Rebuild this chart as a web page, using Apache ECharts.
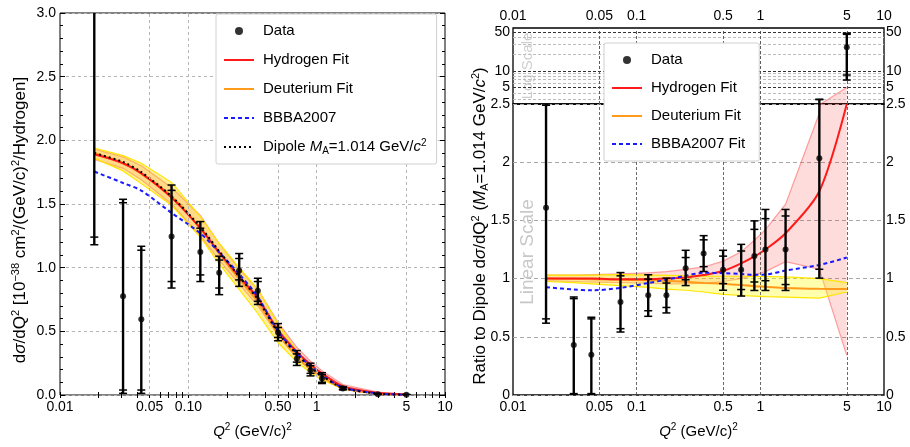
<!DOCTYPE html>
<html><head><meta charset="utf-8">
<script src="https://cdn.jsdelivr.net/npm/echarts@6/dist/echarts.min.js"></script>
<style>html,body{margin:0;padding:0;background:#fff}#c{width:910px;height:447px}</style>
</head><body><div id="c"></div>
<script>
// ---------- DATA ----------
const q2 = [0.0185, 0.031, 0.043, 0.074, 0.124, 0.174, 0.249, 0.348, 0.50, 0.70, 0.895, 1.10, 1.60, 3.0, 5.0];

// Left panel: cross section
const xsData   = [3.05, 0.775, 0.594, 1.245, 1.124, 0.961, 0.977, 0.819, 0.491, 0.284, 0.194, 0.129, 0.052, 0.006, 0.002];
const xsStatHi = [3.40, 1.510, 1.137, 1.607, 1.310, 1.060, 1.072, 0.891, 0.530, 0.323, 0.230, 0.160, 0.060, 0.008, 0.003];
const xsTotHi  = [3.60, 1.537, 1.168, 1.649, 1.362, 1.090, 1.111, 0.917, 0.561, 0.349, 0.250, 0.175, 0.066, 0.010, 0.004];
const xsStatLo = [1.24, 0.039, 0.039, 0.891, 0.943, 0.840, 0.904, 0.736, 0.452, 0.258, 0.170, 0.100, 0.045, 0.004, 0.001];
const xsTotLo  = [1.18, 0.013, 0.013, 0.840, 0.891, 0.788, 0.853, 0.711, 0.426, 0.232, 0.150, 0.090, 0.040, 0.003, 0.0005];

const dipoleXs  = [1.90, 1.83, 1.75, 1.56, 1.32, 1.13, 0.93, 0.75, 0.49, 0.32, 0.215, 0.15, 0.057, 0.011, 0.002];
const hydroXs   = [1.89, 1.82, 1.74, 1.55, 1.31, 1.12, 0.93, 0.76, 0.51, 0.34, 0.24, 0.17, 0.070, 0.017, 0.004];
const hydroXsHi = [1.93, 1.87, 1.80, 1.63, 1.41, 1.19, 0.99, 0.83, 0.57, 0.375, 0.265, 0.19, 0.082, 0.022, 0.006];
const hydroXsLo = [1.85, 1.78, 1.69, 1.50, 1.25, 1.06, 0.87, 0.70, 0.47, 0.31, 0.21, 0.15, 0.058, 0.011, 0.001];
const deutXs    = [1.90, 1.82, 1.74, 1.56, 1.31, 1.11, 0.91, 0.73, 0.48, 0.30, 0.20, 0.14, 0.053, 0.011, 0.0018];
const deutXsHi  = [1.94, 1.88, 1.82, 1.67, 1.40, 1.19, 1.00, 0.83, 0.56, 0.345, 0.23, 0.16, 0.062, 0.013, 0.0022];
const deutXsLo  = [1.86, 1.76, 1.66, 1.49, 1.24, 1.03, 0.83, 0.64, 0.41, 0.26, 0.175, 0.12, 0.045, 0.009, 0.0015];
const bbbaXs    = [1.755, 1.665, 1.605, 1.43, 1.27, 1.12, 0.95, 0.77, 0.50, 0.33, 0.225, 0.155, 0.060, 0.012, 0.0022];

// Right panel: ratio to dipole
const rData   = [1.608, 0.429, 0.345, 0.80, 0.856, 0.856, 1.088, 1.215, 1.075, 1.075, 1.195, 1.249, 1.249, 2.034, 26.7];
const rStatHi = [2.49, 0.828, 0.654, 1.024, 0.996, 0.962, 1.181, 1.333, 1.193, 1.237, 1.423, 1.515, 1.538, 3.00, 46.0];
const rTotHi  = [2.49, 0.842, 0.668, 1.052, 1.033, 1.004, 1.243, 1.369, 1.243, 1.294, 1.496, 1.594, 1.594, 3.05, 48.0];
const rStatLo = [0.654, 0.012, 0.012, 0.570, 0.724, 0.752, 0.990, 1.103, 0.957, 0.906, 0.971, 0.982, 0.949, 1.080, 8.4];
const rTotLo  = [0.617, 0.002, 0.002, 0.541, 0.676, 0.705, 0.940, 1.061, 0.900, 0.850, 0.898, 0.898, 0.898, 1.004, 6.8];

const hydroR   = [1.00, 1.00, 1.00, 0.995, 0.995, 1.00, 1.01, 1.03, 1.065, 1.13, 1.19, 1.25, 1.39, 1.75, 2.5];
const hydroRHi = [1.03, 1.03, 1.035, 1.04, 1.05, 1.06, 1.08, 1.10, 1.15, 1.23, 1.33, 1.42, 1.64, 2.42, 5.0];
const hydroRLo = [0.98, 0.975, 0.97, 0.965, 0.96, 0.955, 0.955, 0.96, 0.975, 1.00, 1.03, 1.06, 1.145, 1.08, 0.34];
const deutR    = [1.00, 0.998, 0.995, 0.99, 0.985, 0.98, 0.972, 0.963, 0.955, 0.945, 0.935, 0.93, 0.92, 0.912, 0.91];
const deutRHi  = [1.03, 1.03, 1.03, 1.035, 1.03, 1.028, 1.025, 1.022, 1.02, 1.02, 1.018, 1.018, 1.015, 1.0, 0.965];
const deutRLo  = [0.975, 0.965, 0.955, 0.94, 0.925, 0.91, 0.90, 0.885, 0.865, 0.855, 0.85, 0.845, 0.84, 0.833, 0.885];
const bbbaR    = [0.926, 0.906, 0.899, 0.92, 0.962, 0.991, 1.024, 1.05, 1.047, 1.04, 1.033, 1.035, 1.069, 1.117, 1.181];

// Axis ticks / gridlines
const xLabelVals = [0.01, 0.05, 0.1, 0.5, 1, 5, 10];
const xGridVals = [0.05, 0.1, 0.5, 1, 5];
const xMinorVals = [0.01,0.02,0.03,0.04,0.05,0.06,0.07,0.08,0.09,0.1,0.2,0.3,0.4,0.5,0.6,0.7,0.8,0.9,1,2,3,4,5,6,7,8,9,10];
const logYLabelVals = [2.5, 5, 10, 50];
const logYGridLight = [3, 4, 6, 7, 8, 9, 20, 30, 40];
const logYGridDark = [5, 10, 50];

// ---------- CHART ----------
const FONT = 'Liberation Sans, Arial, Helvetica, sans-serif';
const chart = echarts.init(document.getElementById('c'));
const pairs = arr => q2.map((x, i) => [x, arr[i]]);
const RICH = {
  i: {fontStyle: 'italic', fontFamily: FONT},
  sup: {fontSize: 10, verticalAlign: 'top', lineHeight: 11, fontFamily: FONT},
  sub: {fontSize: 10, verticalAlign: 'bottom', lineHeight: 11, fontFamily: FONT}
};
const GL = {x: 0, y: 0}, GT = {x: 2, y: 2}, GB = {x: 3, y: 4};

function band(g, lo, hi, fill, edge) {
  const data = q2.map((x, i) => [x, lo[i], hi[i]]);
  return {type: 'custom', xAxisIndex: g.x, yAxisIndex: g.y, data, clip: true, silent: true, z: 2,
    encode: {x: 0, y: [1, 2]},
    renderItem: (params, api) => {
      if (params.dataIndexInside !== 0) return null;
      const n = params.dataInsideLength, up = [], dn = [];
      for (let j = 0; j < n; j++) {
        const x = api.value(0, j);
        up.push(api.coord([x, api.value(2, j)]));
        dn.push(api.coord([x, api.value(1, j)]));
      }
      return {type: 'group', children: [
        {type: 'polygon', shape: {points: up.concat(dn.slice().reverse())}, style: {fill, stroke: null}},
        {type: 'polyline', shape: {points: up}, style: {stroke: edge, lineWidth: 1.2, fill: null}},
        {type: 'polyline', shape: {points: dn}, style: {stroke: edge, lineWidth: 1.2, fill: null}}]};
    }};
}
function curve(g, name, arr, color, type, width) {
  return {type: 'line', name, xAxisIndex: g.x, yAxisIndex: g.y, data: pairs(arr), symbol: 'none', smooth: 0.3,
    silent: true, lineStyle: {color, type, width}, itemStyle: {color}, z: 4};
}
function errRender(params, api) {
  const x = api.value(0);
  const sLo = api.coord([x, api.value(2)]), sHi = api.coord([x, api.value(3)]);
  const tLo = api.coord([x, api.value(4)]), tHi = api.coord([x, api.value(5)]);
  const cw = 4;
  const cap = c => ({type: 'line', shape: {x1: c[0] - cw, y1: c[1], x2: c[0] + cw, y2: c[1]}, style: {stroke: '#000', lineWidth: 1.5}});
  return {type: 'group', children: [
    {type: 'line', shape: {x1: tLo[0], y1: tLo[1], x2: tHi[0], y2: tHi[1]}, style: {stroke: '#000', lineWidth: 2.4}},
    cap(sLo), cap(sHi), cap(tLo), cap(tHi)]};
}
function errSeries(g, v, sLo, sHi, tLo, tHi, keep) {
  const data = q2.map((x, i) => [x, v[i], sLo[i], sHi[i], tLo[i], tHi[i]]).filter(keep || (() => true));
  return {type: 'custom', xAxisIndex: g.x, yAxisIndex: g.y, data, clip: true, silent: true, z: 5,
    encode: {x: 0, y: 1}, renderItem: errRender};
}
function points(g, v, hiArr, keep) {
  const data = q2.map((x, i) => [x, v[i], hiArr[i]]).filter(keep || (() => true)).map(d => [d[0], d[1]]);
  return {type: 'scatter', name: 'Data', xAxisIndex: g.x, yAxisIndex: g.y, data, symbolSize: 6,
    itemStyle: {color: '#000'}, silent: true, z: 6};
}
function gridLines(g, xs, ys, style) {
  const d = [];
  xs.forEach(v => d.push({xAxis: v}));
  ys.forEach(v => d.push({yAxis: v}));
  return {type: 'line', xAxisIndex: g.x, yAxisIndex: g.y, data: [[1, 1]], symbol: 'none', silent: true,
    lineStyle: {width: 0, opacity: 0}, z: 1,
    markLine: {silent: true, symbol: 'none', label: {show: false}, animation: false, lineStyle: style, data: d}};
}
const lblFmtL = v => { const n = +(+v).toPrecision(3); return n < 1 ? n.toFixed(2) : String(n); };
const lblFmtR = v => String(+(+v).toPrecision(3));
const xTitle = {name: '{i|Q}{sup|2} (GeV/c){sup|2}', nameLocation: 'middle', nameGap: 27,
  nameTextStyle: {fontSize: 15, fontFamily: FONT, color: '#000', lineHeight: 20, rich: RICH}};
const lbl = (fmt, vals, extra) => Object.assign({fontSize: 14, fontFamily: FONT, color: '#000', formatter: fmt,
  customValues: vals}, extra || {});
const noLine = {show: false};

const deutFill = 'rgba(255,215,0,0.38)', deutEdge = '#ffe600';
const hydFill = 'rgba(255,40,40,0.16)', hydEdge = 'rgba(255,90,90,0.55)';

const series = [
  // gridlines
  gridLines(GL, xGridVals, [], {color: '#b5b5b5', type: [3, 3], width: 1}),
  gridLines(GT, xGridVals, logYGridLight, {color: '#bdbdbd', type: [3, 2], width: 1}),
  gridLines(GT, [], logYGridDark, {color: '#333', type: [3, 2], width: 1}),
  gridLines(GT, xGridVals, [], {color: '#444', type: [3, 2], width: 0.8}),
  gridLines(GB, xGridVals, [], {color: '#444', type: [3, 2], width: 0.8}),
  // left panel
  band(GL, hydroXsLo, hydroXsHi, hydFill, hydEdge),
  band(GL, deutXsLo, deutXsHi, deutFill, deutEdge),
  curve(GL, 'Deuterium Fit', deutXs, '#ff9a1a', 'solid', 2),
  curve(GL, 'Hydrogen Fit', hydroXs, '#ff1a1a', 'solid', 2),
  curve(GL, 'BBBA2007', bbbaXs, '#1a1aff', [4, 3], 2),
  curve(GL, 'Dipole', dipoleXs, '#000', [2, 3], 2),
  errSeries(GL, xsData, xsStatLo, xsStatHi, xsTotLo, xsTotHi),
  points(GL, xsData, xsTotHi),
  // right bottom (linear)
  band(GB, hydroRLo, hydroRHi, hydFill, hydEdge),
  band(GB, deutRLo, deutRHi, 'rgba(255,255,0,0.32)', deutEdge),
  curve(GB, 'Deuterium Fit', deutR, '#ff9a1a', 'solid', 2),
  curve(GB, 'Hydrogen Fit', hydroR, '#ff1a1a', 'solid', 2),
  curve(GB, 'BBBA2007 Fit', bbbaR, '#1a1aff', [4, 3], 2),
  errSeries(GB, rData, rStatLo, rStatHi, rTotLo, rTotHi),
  points(GB, rData, rTotHi),
  // right top (log)
  band(GT, hydroRLo, hydroRHi, hydFill, hydEdge),
  errSeries(GT, rData, rStatLo, rStatHi, rTotLo, rTotHi, d => d[5] > 2.5),
  points(GT, rData, rTotHi, d => d[2] > 2.5)
];

const noSym = name => ({name, itemStyle: {opacity: 0}});
const legendBase = {orient: 'vertical', backgroundColor: '#fff', borderColor: '#d0d0d0', borderWidth: 1,
  borderRadius: 2, itemWidth: 30, itemHeight: 8, z: 10, selectedMode: false,
  textStyle: {fontSize: 15, fontFamily: FONT, color: '#000', lineHeight: 18, padding: [0, 0, 0, 4],
    rich: {i: {fontStyle: 'italic', fontSize: 15, fontFamily: FONT, lineHeight: 18},
      sup: {fontSize: 10, verticalAlign: 'top', lineHeight: 11, fontFamily: FONT},
      sub: {fontSize: 10, verticalAlign: 'bottom', lineHeight: 11, fontFamily: FONT}}}};

const option = {
  animation: false,
  backgroundColor: '#fff',
  grid: [
    {left: 60, top: 13, width: 385, height: 387, show: true, borderColor: '#000', borderWidth: 1},
    {left: 513, top: 28, width: 371, height: 76, show: true, borderColor: '#000', borderWidth: 1.3},
    {left: 513, top: 104, width: 371, height: 297, show: true, borderColor: '#000', borderWidth: 1.3}
  ],
  xAxis: [
    Object.assign({gridIndex: 0, type: 'log', min: 0.01, max: 10, position: 'bottom', axisLine: noLine,
      axisTick: {show: true, inside: true, length: 3, customValues: xMinorVals, lineStyle: {color: '#000'}},
      axisLabel: lbl(lblFmtL, xLabelVals, {margin: 5}), splitLine: {show: false}}, xTitle),
    {gridIndex: 0, type: 'log', min: 0.01, max: 10, position: 'top', axisLine: noLine,
      axisTick: {show: true, inside: true, length: 3, customValues: xMinorVals, lineStyle: {color: '#000'}},
      axisLabel: {show: false}, splitLine: {show: false}},
    {gridIndex: 1, type: 'log', min: 0.01, max: 10, position: 'top', axisLine: noLine, axisTick: {show: false},
      axisLabel: lbl(lblFmtR, xLabelVals, {margin: 5}), splitLine: {show: false}},
    Object.assign({gridIndex: 2, type: 'log', min: 0.01, max: 10, position: 'bottom', axisLine: noLine, axisTick: {show: false},
      axisLabel: lbl(lblFmtR, xLabelVals, {margin: 5}), splitLine: {show: false}}, xTitle)
  ],
  yAxis: [
    {gridIndex: 0, type: 'value', min: 0, max: 3, interval: 0.5, position: 'left', axisLine: noLine,
      axisTick: {show: true, inside: true, length: 5, lineStyle: {color: '#000'}},
      minorTick: {show: true, splitNumber: 5, length: 3, lineStyle: {color: '#000'}},
      axisLabel: {fontSize: 14, fontFamily: FONT, color: '#000', margin: 4, formatter: v => v.toFixed(1)},
      splitLine: {show: true, lineStyle: {color: '#b5b5b5', type: [3, 3], width: 1}}},
    {gridIndex: 0, type: 'value', min: 0, max: 3, interval: 0.5, position: 'right', axisLine: noLine,
      axisTick: {show: true, inside: true, length: 5, lineStyle: {color: '#000'}},
      minorTick: {show: true, splitNumber: 5, length: 3, lineStyle: {color: '#000'}},
      axisLabel: {show: false}, splitLine: {show: false}},
    {gridIndex: 1, type: 'log', min: 2.5, max: 60, position: 'left', axisLine: noLine, axisTick: {show: false},
      axisLabel: lbl(lblFmtR, logYLabelVals, {margin: 3}), splitLine: {show: false}},
    {gridIndex: 1, type: 'log', min: 2.5, max: 60, position: 'right', axisLine: noLine, axisTick: {show: false},
      axisLabel: lbl(lblFmtR, logYLabelVals, {margin: 2}), splitLine: {show: false}},
    {gridIndex: 2, type: 'value', min: 0, max: 2.5, interval: 0.5, position: 'left', axisLine: noLine, axisTick: {show: false},
      axisLabel: {fontSize: 14, fontFamily: FONT, color: '#000', margin: 3, showMaxLabel: false, formatter: lblFmtR},
      splitLine: {show: true, lineStyle: {color: '#a8a8a8', type: [4, 3], width: 1}}},
    {gridIndex: 2, type: 'value', min: 0, max: 2.5, interval: 0.5, position: 'right', axisLine: noLine, axisTick: {show: false},
      axisLabel: {fontSize: 14, fontFamily: FONT, color: '#000', margin: 2, showMaxLabel: false, formatter: lblFmtR},
      splitLine: {show: false}}
  ],
  legend: [
    Object.assign({}, legendBase, {left: 216, top: 14, padding: [8, 10, 8, 7], itemGap: 11,
      data: ['Data', noSym('Hydrogen Fit'), noSym('Deuterium Fit'), noSym('BBBA2007'), noSym('Dipole')],
      formatter: n => n === 'Dipole' ? 'Dipole {i|M}{sub|A}=1.014 GeV/{i|c}{sup|2}' : n}),
    Object.assign({}, legendBase, {left: 604, top: 43, padding: [8, 14, 8, 7], itemGap: 10,
      data: ['Data', noSym('Hydrogen Fit'), noSym('Deuterium Fit'), noSym('BBBA2007 Fit')]})
  ],
  graphic: [
    {type: 'text', x: 20, y: 220, rotation: Math.PI / 2, z: 10,
      style: {text: 'd{i|σ}/dQ{sup|2} [10{sup|−38} cm{sup|2}/(GeV/c){sup|2}/Hydrogen]', fontSize: 17, fontFamily: FONT,
        fill: '#000', align: 'center', verticalAlign: 'middle', lineHeight: 20,
        rich: {i: {fontStyle: 'italic', fontSize: 17, fontFamily: FONT, lineHeight: 20},
          sup: {fontSize: 11, verticalAlign: 'top', lineHeight: 12, fontFamily: FONT}}}},
    {type: 'text', x: 480, y: 226, rotation: Math.PI / 2, z: 10,
      style: {text: 'Ratio to Dipole d{i|σ}/dQ{sup|2} ({i|M}{sub|A}=1.014 GeV/{i|c}{sup|2})', fontSize: 17, fontFamily: FONT,
        fill: '#000', align: 'center', verticalAlign: 'middle', lineHeight: 20,
        rich: {i: {fontStyle: 'italic', fontSize: 17, fontFamily: FONT, lineHeight: 20},
          sup: {fontSize: 11, verticalAlign: 'top', lineHeight: 12, fontFamily: FONT},
          sub: {fontSize: 11, verticalAlign: 'bottom', lineHeight: 12, fontFamily: FONT}}}},
    {type: 'text', x: 528, y: 252, rotation: Math.PI / 2, z: 1,
      style: {text: 'Linear Scale', fontSize: 19, fontFamily: FONT, fill: '#c8c8c8', align: 'center', verticalAlign: 'middle'}},
    {type: 'text', x: 528, y: 66, rotation: Math.PI / 2, z: 0,
      style: {text: 'Log Scale', fontSize: 15, fontFamily: FONT, fill: '#cfcfcf', align: 'center', verticalAlign: 'middle'}}
  ],
  series
};
chart.setOption(option);
</script>
</body></html>
